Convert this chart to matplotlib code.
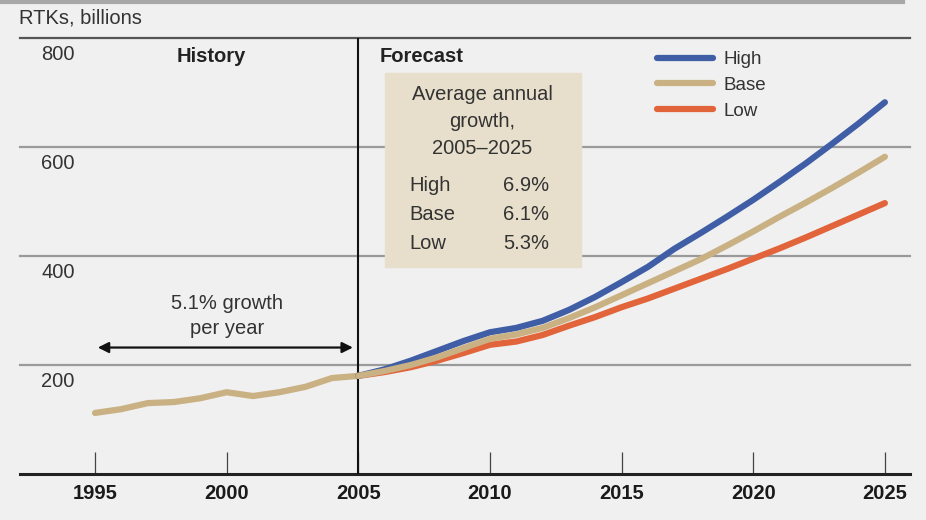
import matplotlib.pyplot as plt
from matplotlib.lines import Line2D

plt.rcParams['font.family'] = ['Liberation Sans', 'DejaVu Sans']

# history 1995-2005
hist_years = list(range(1995, 2006))
hist_vals = [112, 119, 130, 132, 139, 150, 143, 150, 160, 176, 180]

# forecast 2005-2025
fc_years = list(range(2005, 2026))
high = [180, 192, 208, 226, 244, 260, 268, 281, 301, 325, 352,
        380, 413, 442, 472, 503, 536, 570, 606, 643, 682]
base = [180, 189, 200, 214, 231, 248, 256, 268, 286, 306, 328,
        350, 372, 394, 419, 445, 472, 498, 525, 553, 582]
low = [180, 187, 196, 208, 222, 237, 243, 255, 272, 288, 306,
       322, 340, 358, 376, 395, 414, 434, 455, 476, 497]

series_names = ['High', 'Base', 'Low']
growth = ['6.9%', '6.1%', '5.3%']
yticks = [200, 400, 600, 800]
xticks = [1995, 2000, 2005, 2010, 2015, 2020, 2025]

c_high = '#3f5ea6'
c_base = '#c9b183'
c_low = '#e2643a'
bg = '#f0f0f0'
txt = '#333333'
fs = 14.5

fig = plt.figure(figsize=(9.26, 5.2), dpi=100, facecolor=bg)
ax = fig.add_axes([0.0216, 0.0885, 0.961, 0.8385], facecolor=bg)
ax.set_xlim(1992.15, 2025.95)
ax.set_ylim(0, 800)

# gridlines + labels under them
for v in yticks:
    col = '#555555' if v == 800 else '#9a9a9a'
    ax.axhline(v, color=col, lw=1.6, zorder=1, clip_on=False)
    ax.text(1993.6, v - 12, str(v), ha='center', va='top', fontsize=fs, color=txt)

ax.axvline(2005, color='#111111', lw=1.5, zorder=3)

ax.plot(hist_years, hist_vals, color=c_base, lw=4.5, solid_capstyle='round', zorder=4)
ax.plot(fc_years, low, color=c_low, lw=4.5, solid_capstyle='round', zorder=4)
ax.plot(fc_years, base, color=c_base, lw=4.5, solid_capstyle='round', zorder=5)
ax.plot(fc_years, high, color=c_high, lw=4.5, solid_capstyle='round', zorder=4)

for s in ['top', 'right', 'left']:
    ax.spines[s].set_visible(False)
ax.spines['bottom'].set_linewidth(2.2)
ax.spines['bottom'].set_color('#222222')
ax.set_yticks([])
ax.set_xticks(xticks)
ax.set_xticklabels([str(x) for x in xticks], fontsize=14.5, fontweight='bold', color='#1a1a1a')
ax.tick_params(axis='x', direction='in', length=16, width=0.9, color='#444444', pad=7)

# headers
ax.text(1999.4, 766, 'History', ha='center', va='center', fontsize=fs, fontweight='bold', color='#222222')
ax.text(2005.8, 766, 'Forecast', ha='left', va='center', fontsize=fs, fontweight='bold', color='#222222')
fig.text(0.021, 0.965, 'RTKs, billions', ha='left', va='center', fontsize=fs, color=txt)

# growth box
ax.fill_between([2006.0, 2013.45], 380, 735, color='#e7dfcb', zorder=2)
ax.text(2009.7, 714, 'Average annual\ngrowth,\n2005\u20132025', ha='center', va='top',
        fontsize=fs, color=txt, linespacing=1.55, zorder=6)
for i, name in enumerate(series_names):
    yy = 529 - i * 53
    ax.text(2006.95, yy, name, ha='left', va='center', fontsize=fs, color=txt, zorder=6)
    ax.text(2012.25, yy, growth[i], ha='right', va='center', fontsize=fs, color=txt, zorder=6)

# legend
handles = [Line2D([], [], color=c, lw=4.5, solid_capstyle='round') for c in (c_high, c_base, c_low)]
leg = ax.legend(handles, series_names, loc='upper left', bbox_to_anchor=(0.697, 1.008),
                frameon=False, fontsize=13.5, handlelength=3.0, labelspacing=0.45, handletextpad=0.55)
for t in leg.get_texts():
    t.set_color(txt)

# history growth arrow
ax.annotate('', xy=(1995, 232), xytext=(2004.9, 232),
            arrowprops=dict(arrowstyle='<|-|>', color='#111111', lw=1.6, mutation_scale=16))
ax.text(2000, 290, '5.1% growth\nper year', ha='center', va='center', fontsize=fs,
        color=txt, linespacing=1.35)

fig.add_artist(Line2D([0, 0.975], [0.997, 0.997], color='#a8a8a8', lw=3))

fig.savefig('out.png', dpi=100, facecolor=bg)
